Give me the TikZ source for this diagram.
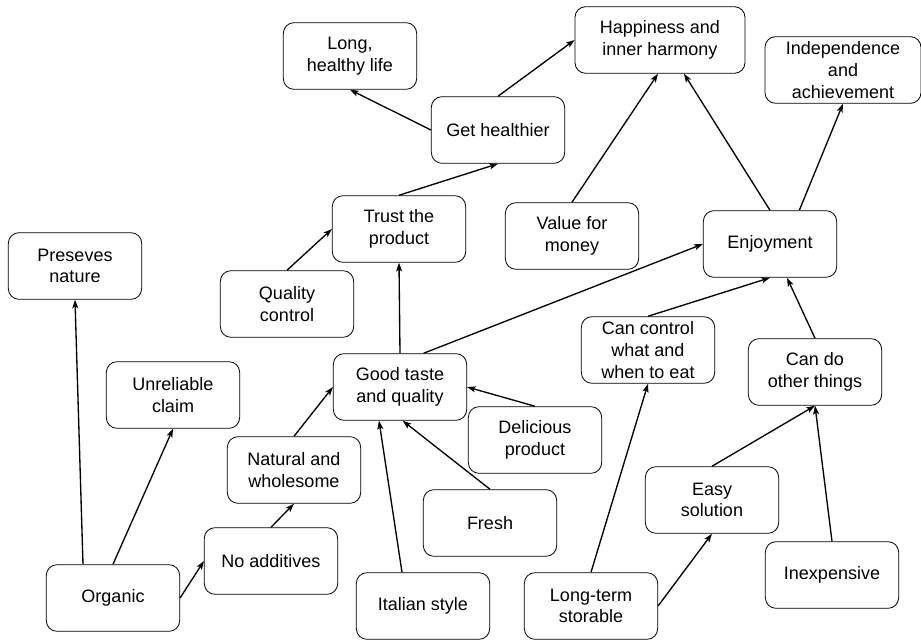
\documentclass[tikz,border=0pt]{standalone}
\usepackage{fontspec}
\setmainfont{Liberation Sans}
\usetikzlibrary{arrows.meta}

\begin{document}
\begin{tikzpicture}[x=0.75pt,y=0.75pt,yscale=-1,xscale=1,
  box/.style={draw, line width=0.6pt, rounded corners=8pt, minimum width=100pt, minimum height=50pt,
    inner sep=1pt, align=center, font=\fontsize{13.5}{16.3}\selectfont},
  link/.style={line width=1pt, -{Stealth[length=6.5pt,width=4.5pt,inset=1.5pt]}}]
\useasboundingbox (0,0) rectangle (921,641);

% Text Node
\draw (350,56) node [box] (lhl) {Long,\\healthy life};
% Text Node
\draw (498,130) node [box] (gh) {Get healthier};
% Text Node
\draw (660,40) node [box, minimum width=127.5pt] (hap) {Happiness and\\inner harmony};
% Text Node
\draw (843,70) node [box, minimum width=117pt] (ind) {Independence\\and\\achievement};
% Text Node
\draw (399,229) node [box] (trust) {Trust the\\product};
% Text Node
\draw (75,266) node [box] (pn) {Preseves\\nature};
% Text Node
\draw (287,304) node [box] (qc) {Quality\\control};
% Text Node
\draw (572,236) node [box] (vfm) {Value for\\money};
% Text Node
\draw (770,244) node [box] (enj) {Enjoyment};
% Text Node
\draw (173,395) node [box] (uc) {Unreliable\\claim};
% Text Node
\draw (400,387) node [box] (gtq) {Good taste\\and quality};
% Text Node
\draw (294,470) node [box] (nw) {Natural and\\wholesome};
% Text Node
\draw (271,561) node [box] (nad) {No additives};
% Text Node
\draw (113,598) node [box] (org) {Organic};
% Text Node
\draw (423,606) node [box] (it) {Italian style};
% Text Node
\draw (648,350) node [box] (ccw) {Can control\\what and\\when to eat};
% Text Node
\draw (815,372) node [box] (cdo) {Can do\\other things};
% Text Node
\draw (535,440) node [box] (dp) {Delicious\\product};
% Text Node
\draw (490,523) node [box] (fr) {Fresh};
% Text Node
\draw (712,500) node [box] (es) {Easy\\solution};
% Text Node
\draw (591,606) node [box] (lts) {Long-term\\storable};
% Text Node
\draw (832,575) node [box] (inx) {Inexpensive};

%Straight Lines
\draw [link] (gh.west) -- (lhl.south);
\draw [link] (gh.north) -- (hap.west);
\draw [link] (trust.north) -- (gh.south);
\draw [link] (qc.north) -- (trust.west);
\draw [link] (gtq.north) -- (trust.south);
\draw [link] (gtq.55) -- (enj.west);
\draw [link] (vfm.north) -- ([xshift=-1.5pt]hap.south);
\draw [link] (enj.north) -- ([xshift=18pt]hap.south);
\draw [link] ([xshift=22pt]enj.north) -- (ind.south);
\draw [link] (ccw.north) -- (enj.south);
\draw [link] (cdo.north) -- ([xshift=12.75pt]enj.south);
%Straight Lines
\draw [link] ([xshift=-22.5pt]org.north) -- (pn.south);
\draw [link] (org.north) -- (uc.south);
\draw [link] (org.east) -- (nad.west);
\draw [link] (nad.north) -- (nw.south);
\draw [link] (nw.north) -- (gtq.west);
\draw [link] ([xshift=-15.75pt]it.north) -- ([xshift=-15.75pt]gtq.south);
\draw [link] (fr.north) -- ([xshift=2pt]gtq.south);
\draw [link] (dp.north) -- (gtq.east);
\draw [link] (lts.north) -- (ccw.south);
\draw [link] (lts.east) -- (es.south);
\draw [link] (es.north) -- (cdo.south);
\draw [link] (inx.north) -- (cdo.south);

\end{tikzpicture}
\end{document}
